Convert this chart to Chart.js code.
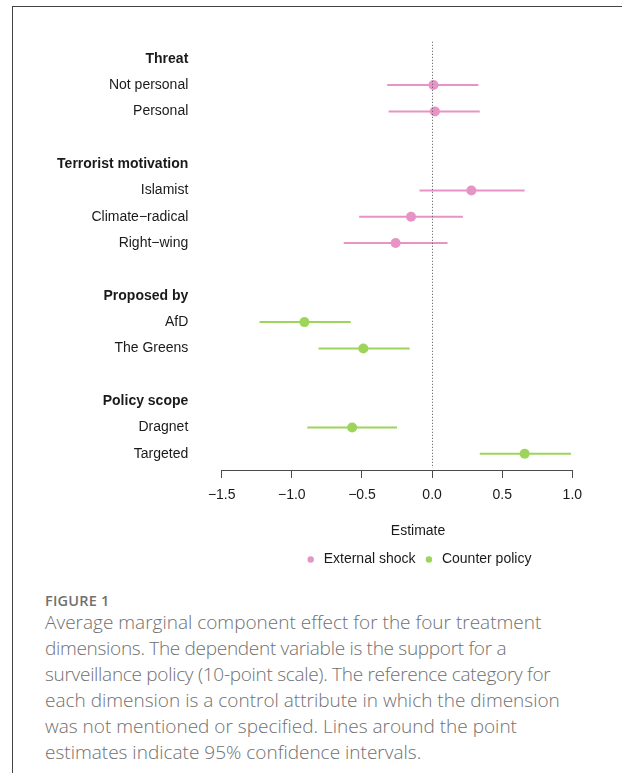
<!DOCTYPE html>
<html>
<head>
<meta charset="utf-8">
<script src="https://cdn.jsdelivr.net/npm/chart.js@4.4.1/dist/chart.umd.min.js"></script>
<style>
  html, body { margin: 0; padding: 0; background: #ffffff; }
  body { width: 622px; height: 773px; position: relative; overflow: hidden; }
  #frame {
    position: absolute; left: 12px; top: 6px; right: -20px; bottom: -20px;
    border-left: 1px solid #444; border-top: 1px solid #444;
  }
  #chart { position: absolute; left: 0; top: 0; }
  #caption {
    position: absolute; left: 45px; top: 592px;
    font-family: "Open Sans", "Noto Sans", sans-serif; color: #707070;
  }
  #caption .fig { font-size: 14.5px; font-weight: 600; line-height: 18px; letter-spacing: 0.2px; }
  #caption .txt { font-size: 19px; font-weight: 300; line-height: 26px; white-space: nowrap; margin-top: -1px; }
  #caption .tight { letter-spacing: -0.3px; }
</style>
</head>
<body>
<div id="frame"></div>
<canvas id="chart" width="622" height="580"></canvas>
<div id="caption">
  <div class="fig">FIGURE 1</div>
  <div class="txt">Average marginal component effect for the four treatment<br><span class="tight">dimensions. The dependent variable is the support for a</span><br><span class="tight">surveillance policy (10-point scale). The reference category for</span><br>each dimension is a control attribute in which the dimension<br>was not mentioned or specified. Lines around the point<br>estimates indicate 95% confidence intervals.</div>
</div>
<script>
// Rows of the coefficient plot, top to bottom (empty strings are spacer rows)
const rowLabels = [
  'Threat', 'Not personal', 'Personal', '',
  'Terrorist motivation', 'Islamist', 'Climate\u2212radical', 'Right\u2212wing', '',
  'Proposed by', 'AfD', 'The Greens', '',
  'Policy scope', 'Dragnet', 'Targeted'
];
const headerLabels = ['Threat', 'Terrorist motivation', 'Proposed by', 'Policy scope'];

// External shock dimensions: estimate and 95% CI
const shockCategories = ['Not personal', 'Personal', 'Islamist', 'Climate\u2212radical', 'Right\u2212wing'];
const shockEstimate = [0.01, 0.02, 0.28, -0.15, -0.26];
const shockLower    = [-0.32, -0.31, -0.09, -0.52, -0.63];
const shockUpper    = [0.33, 0.34, 0.66, 0.22, 0.11];

// Counter policy dimensions: estimate and 95% CI
const policyCategories = ['AfD', 'The Greens', 'Dragnet', 'Targeted'];
const policyEstimate = [-0.91, -0.49, -0.57, 0.66];
const policyLower    = [-1.23, -0.81, -0.89, 0.34];
const policyUpper    = [-0.58, -0.16, -0.25, 0.99];

const xTickValues = [-1.5, -1.0, -0.5, 0.0, 0.5, 1.0];

const PINK = '#E793C6';
const GREEN = '#9DD45A';
const INK = '#1a1a1a';
const FONT = "'Liberation Sans', Arial, Helvetica, sans-serif";

const rowOf = (name) => rowLabels.indexOf(name);

function pointData(cats, est) {
  return cats.map((c, i) => ({ x: est[i], y: rowOf(c) }));
}
function intervalSets(cats, lo, hi, color) {
  return cats.map((c, i) => ({
    label: 'CI ' + c,
    data: [{ x: lo[i], y: rowOf(c) }, { x: hi[i], y: rowOf(c) }],
    showLine: true,
    borderColor: color,
    borderWidth: 2,
    pointRadius: 0,
    pointHoverRadius: 0,
    order: 2
  }));
}

const datasets = [
  {
    label: 'External shock',
    data: pointData(shockCategories, shockEstimate),
    backgroundColor: PINK, borderColor: PINK,
    pointRadius: 5, pointBorderWidth: 0, order: 0
  },
  {
    label: 'Counter policy',
    data: pointData(policyCategories, policyEstimate),
    backgroundColor: GREEN, borderColor: GREEN,
    pointRadius: 5, pointBorderWidth: 0, order: 0
  },
  ...intervalSets(shockCategories, shockLower, shockUpper, PINK),
  ...intervalSets(policyCategories, policyLower, policyUpper, GREEN)
];

// Dotted reference line at zero and the axis baseline spanning the tick range
const referenceLines = {
  id: 'referenceLines',
  afterDatasetsDraw(chart) {
    const { ctx, chartArea, scales: { x } } = chart;
    ctx.save();
    const x0 = Math.round(x.getPixelForValue(0)) + 0.5;
    ctx.strokeStyle = '#555';
    ctx.lineWidth = 1;
    ctx.setLineDash([1, 2]);
    ctx.beginPath();
    ctx.moveTo(x0, chartArea.top);
    ctx.lineTo(x0, chartArea.bottom - 2);
    ctx.stroke();
    ctx.setLineDash([]);
    ctx.strokeStyle = '#4a4a4a';
    const yb = Math.round(chartArea.bottom) + 0.5;
    ctx.beginPath();
    ctx.moveTo(Math.round(x.getPixelForValue(xTickValues[0])), yb);
    ctx.lineTo(Math.round(x.getPixelForValue(xTickValues[xTickValues.length - 1])) + 1, yb);
    ctx.stroke();
    ctx.restore();
  }
};

Chart.defaults.font.family = FONT;
Chart.defaults.font.size = 14;
Chart.defaults.color = INK;

new Chart(document.getElementById('chart'), {
  type: 'scatter',
  data: { datasets },
  plugins: [referenceLines],
  options: {
    responsive: false,
    animation: false,
    devicePixelRatio: 1,
    layout: { padding: { top: 40, right: 7.6, bottom: 3.5, left: 0 } },
    plugins: {
      tooltip: { enabled: false },
      legend: {
        position: 'bottom',
        fullSize: false,
        labels: {
          usePointStyle: true,
          boxWidth: 12,
          boxHeight: 4.5,
          padding: 7.4,
          color: INK,
          font: { size: 14 },
          generateLabels: () => [
            { text: 'External shock', fillStyle: PINK, strokeStyle: PINK, lineWidth: 0, pointStyle: 'circle', hidden: false, datasetIndex: 0, fontColor: INK },
            { text: 'Counter policy', fillStyle: GREEN, strokeStyle: GREEN, lineWidth: 0, pointStyle: 'circle', hidden: false, datasetIndex: 1, fontColor: INK }
          ]
        }
      }
    },
    scales: {
      x: {
        type: 'linear',
        min: -1.5,
        max: 1.3,
        afterBuildTicks: (s) => { s.ticks = xTickValues.map(v => ({ value: v })); },
        grid: { display: true, drawOnChartArea: false, drawTicks: true, tickLength: 8, color: '#4a4a4a', lineWidth: 1 },
        border: { display: false },
        ticks: {
          padding: 8.6,
          maxRotation: 0,
          color: INK,
          font: { size: 14 },
          callback: (v) => Number(v).toFixed(1).replace('-', '\u2212')
        },
        title: { display: true, text: 'Estimate', color: INK, font: { size: 14 }, padding: { top: 10.3, bottom: 6 } }
      },
      y: {
        type: 'linear',
        reverse: true,
        min: -0.643,
        max: 15.616,
        afterBuildTicks: (s) => { s.ticks = rowLabels.map((_, i) => ({ value: i })); },
        afterFit: (s) => { s.width = 221.7; },
        grid: { display: false, drawTicks: false },
        border: { display: false },
        ticks: {
          padding: 33.4,
          color: INK,
          autoSkip: false,
          callback: (v) => rowLabels[v] ?? '',
          font: (ctx) => ({
            size: 14,
            family: FONT,
            weight: ctx.tick && headerLabels.includes(rowLabels[ctx.tick.value]) ? 'bold' : 'normal'
          })
        }
      }
    }
  }
});
</script>
</body>
</html>
